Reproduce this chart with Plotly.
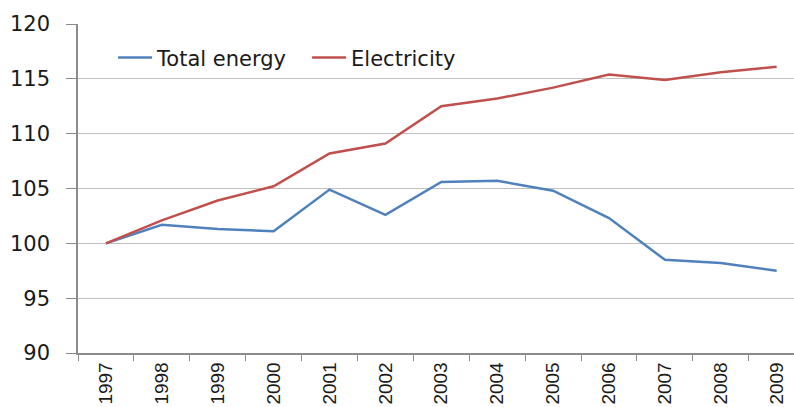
import plotly.graph_objects as go

# Index values, 1997 = 100
years = ["1997", "1998", "1999", "2000", "2001", "2002", "2003",
         "2004", "2005", "2006", "2007", "2008", "2009"]
total_energy = [100.0, 101.7, 101.3, 101.1, 104.9, 102.6, 105.6,
                105.7, 104.8, 102.3, 98.5, 98.2, 97.5]
electricity = [100.0, 102.1, 103.9, 105.2, 108.2, 109.1, 112.5,
               113.2, 114.2, 115.4, 114.9, 115.6, 116.1]
y_ticks = [90, 95, 100, 105, 110, 115, 120]

BLUE = "#4F81BD"
RED = "#C0504D"
GRID = "#C0C0C0"
AXIS = "#8C8C8C"
TEXT = "#1a1a1a"

fig = go.Figure()
fig.add_trace(go.Scatter(x=years, y=total_energy, name="Total energy",
                         mode="lines", line=dict(color=BLUE, width=2.5)))
fig.add_trace(go.Scatter(x=years, y=electricity, name="Electricity",
                         mode="lines", line=dict(color=RED, width=2.5)))

fig.update_layout(
    width=794, height=407,
    margin=dict(l=78, r=0, t=24, b=54, pad=0),
    paper_bgcolor="white", plot_bgcolor="white",
    showlegend=True,
    legend=dict(orientation="h", x=0.049, y=0.897, xanchor="left",
                yanchor="middle",
                font=dict(family="DejaVu Sans", size=21, color=TEXT),
                bgcolor="rgba(0,0,0,0)", entrywidth=145, itemwidth=34),
    xaxis=dict(type="category", range=[-0.5, 12.31], tickson="boundaries",
               ticks="outside", ticklen=6, tickcolor=AXIS,
               showline=True, linecolor=AXIS, linewidth=1.5,
               showgrid=False, tickangle=-90, automargin=False,
               ticklabelstandoff=0,
               tickfont=dict(family="Liberation Sans", size=19, color=TEXT)),
    yaxis=dict(range=[90, 120], tickvals=y_ticks, ticks="outside",
               ticklen=10, tickcolor=AXIS, showline=True, linecolor=AXIS,
               linewidth=1.5, gridcolor=GRID, gridwidth=1.2,
               zeroline=False, automargin=False, ticklabelstandoff=12,
               tickfont=dict(family="DejaVu Sans", size=21, color=TEXT)),
)

fig.write_html("out.html")
